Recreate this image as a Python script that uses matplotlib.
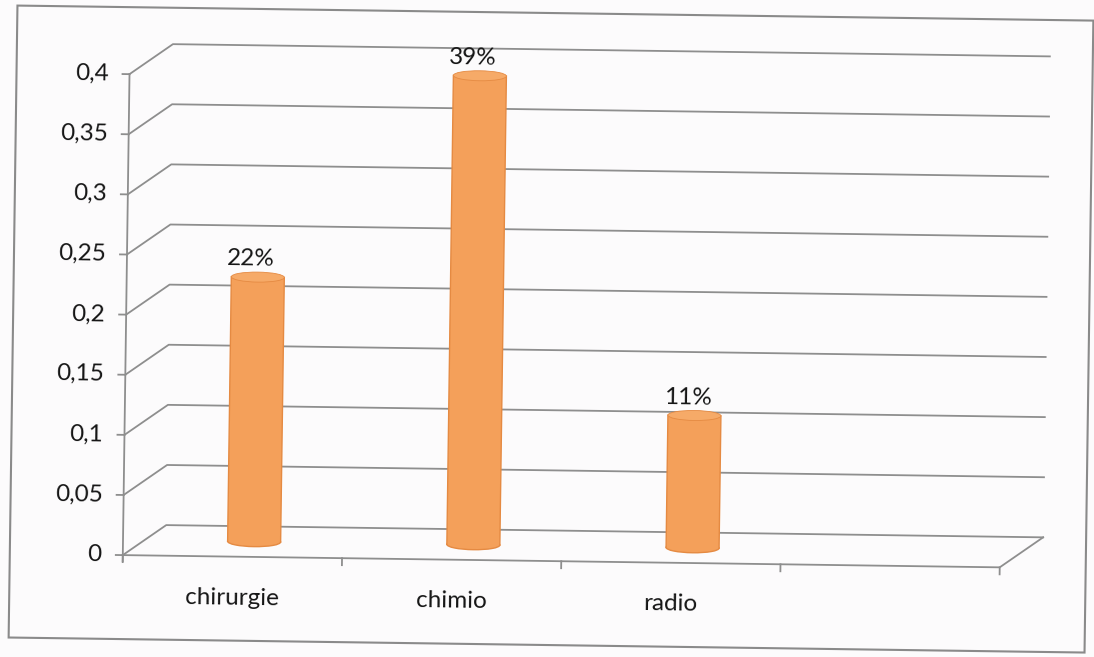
import matplotlib
matplotlib.use("Agg")
import matplotlib.pyplot as plt
from matplotlib.patches import Rectangle, Ellipse
from matplotlib.transforms import Affine2D

# data
categories = ["chirurgie", "chimio", "radio"]
values = [0.22, 0.39, 0.11]
bar_labels = ["22%", "39%", "11%"]
n_slots = 4  # floor has an empty 4th slot
yticks = [0, 0.05, 0.1, 0.15, 0.2, 0.25, 0.3, 0.35, 0.4]
ytick_labels = ["0", "0,05", "0,1", "0,15", "0,2", "0,25", "0,3", "0,35", "0,4"]

W, H = 1094, 657
plt.rcParams['font.family'] = ['Lato', 'DejaVu Sans']
FS = 17.5
txt_c = '#151515'
grid_c = '#8e8e8e'
bar_c = '#f4a05a'
edge_c = '#e58a42'
top_c = '#f6aa68'

fig = plt.figure(figsize=(W/100, H/100), dpi=100)
fig.patch.set_facecolor('#fcfbfc')
ax = fig.add_axes([126/W, (H-561)/H, 877/W, 481/H])
ax.set_xlim(-0.5, n_slots-0.5)
ax.set_ylim(0, 0.4)
ax.axis('off')

#data units per pixel
px = n_slots/877.
py = 0.4/481.
dx, dy = 43*px, 30.6*py   # 3d depth
# the scan is a little tilted
scan = Affine2D().rotate_deg_around(W/2, H/2, -0.8)
tr = ax.transData + scan
x0, x1 = -0.5, n_slots-0.5

def line(xs, ys, **kw):
    ax.plot(xs, ys, color=grid_c, lw=1.3, transform=tr, clip_on=False, **kw)

# back wall + side wall gridlines
for t in yticks:
    line([x0, x0+dx, x1+dx], [t, t+dy, t+dy])
# floor
line([x0, x1, x1+dx], [0, 0, dy])
# front value axis
line([x0, x0], [-6*py, 0.4])
for t, lab in zip(yticks, ytick_labels):
    line([x0-7*px, x0], [t, t])
    ax.text(x0-21*px, t, lab, transform=tr, ha='right', va='center', fontsize=FS,
            color=txt_c, rotation=-0.8, rotation_mode='anchor')
# category ticks on floor
for i in range(n_slots+1):
    line([x0+i, x0+i], [0, -7*py])
for i, c in enumerate(categories):
    ax.text(i, -48*py, c, transform=tr, ha='center', va='baseline', fontsize=FS,
            color=txt_c, rotation=-0.8, rotation_mode='anchor')

# cylinders
bw = 53*px
eh = 10*py
for i, (v, lab) in enumerate(zip(values, bar_labels)):
    xc = i + dx/2
    yb = dy/2
    ax.add_patch(Ellipse((xc, yb), bw, eh, fc=bar_c, ec=edge_c, lw=1, transform=tr, clip_on=False, zorder=2))
    ax.add_patch(Rectangle((xc-bw/2, yb), bw, v, fc=bar_c, lw=0, transform=tr, clip_on=False, zorder=3))
    for xe in (xc-bw/2, xc+bw/2):
        ax.plot([xe, xe], [yb, yb+v], color=edge_c, lw=1, transform=tr, clip_on=False, zorder=3.5)
    ax.add_patch(Ellipse((xc, yb+v), bw, eh, fc=top_c, ec=edge_c, lw=0.6, transform=tr, clip_on=False, zorder=4))
    ax.text(xc-7*px, yb+v+18*py, lab, transform=tr, ha='center', va='center', fontsize=FS,
            color=txt_c, rotation=-0.8, rotation_mode='anchor')

# outer chart frame
fig.patches.append(Rectangle((13/W, (H-645)/H), (1089-13)/W, (645-13)/H, transform=fig.transFigure+scan,
                             fill=False, ec='#8a8a8a', lw=1.5))

fig.savefig("out.png", dpi=100, facecolor=fig.get_facecolor())
